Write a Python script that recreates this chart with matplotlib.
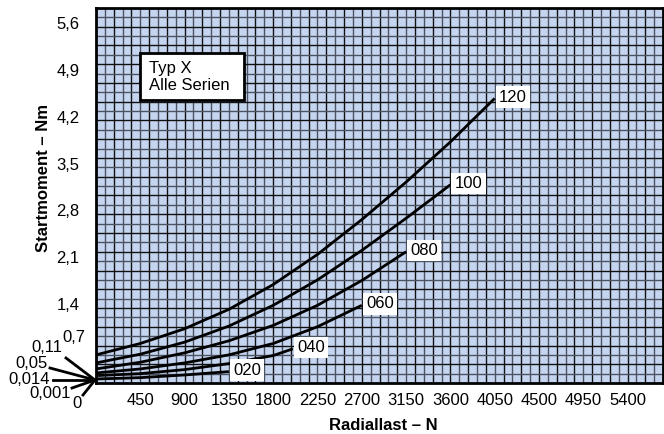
import numpy as np
import matplotlib
matplotlib.use("Agg")
import matplotlib.pyplot as plt
from matplotlib.patches import Rectangle
from matplotlib.transforms import ScaledTranslation

plt.rcParams["font.family"] = ["Liberation Sans", "DejaVu Sans"]

# curve data (Radiallast N -> Startmoment Nm)
x_120 = [0, 450, 900, 1350, 1800, 2250, 2700, 3150, 3600, 4050]
y_120 = [0.42, 0.59, 0.81, 1.10, 1.47, 1.92, 2.44, 3.00, 3.60, 4.25]
x_100 = [0, 450, 900, 1350, 1800, 2250, 2700, 3150, 3600]
y_100 = [0.30, 0.43, 0.61, 0.85, 1.16, 1.54, 1.98, 2.46, 2.96]
x_080 = [0, 450, 900, 1350, 1800, 2250, 2700, 3150]
y_080 = [0.21, 0.31, 0.45, 0.63, 0.86, 1.16, 1.53, 1.96]
x_060 = [0, 450, 900, 1350, 1800, 2250, 2700]
y_060 = [0.15, 0.21, 0.30, 0.42, 0.59, 0.84, 1.16]
x_040 = [0, 450, 900, 1350, 1800, 2000]
y_040 = [0.11, 0.14, 0.20, 0.29, 0.41, 0.51]
x_020 = [0, 450, 900, 1350]
y_020 = [0.06, 0.08, 0.12, 0.17]

series = [("120", x_120, y_120), ("100", x_100, y_100), ("080", x_080, y_080),
          ("060", x_060, y_060), ("040", x_040, y_040), ("020", x_020, y_020)]

x_ticks = [450, 900, 1350, 1800, 2250, 2700, 3150, 3600, 4050, 4500, 4950, 5400]
y_ticks = [0.7, 1.4, 2.1, 2.8, 3.5, 4.2, 4.9, 5.6]
y_tick_labels = ["0,7", "1,4", "2,1", "2,8", "3,5", "4,2", "4,9", "5,6"]

# small start values with leader lines: label, text position (px), line start (px)
low_labels = ["0,11", "0,05", "0,014", "0,001", "0"]
low_text_px = [(47, 347), (31, 363), (29, 379), (50, 394), (77, 404)]
low_line_start_px = [(66, 358), (50, 368), (53, 380), (72, 388), (83, 395)]

FS = 12
W, H = 664, 434
fig = plt.figure(figsize=(W / 100, H / 100), dpi=100)
ax = fig.add_axes([96 / W, 1 - 383 / H, 567 / W, 375 / H])
ax.set_facecolor("#c6d5ef")
ax.set_xlim(0, 5760)
ax.set_ylim(0, 5.6)

# dense graph-paper grid
for i, gx in enumerate(np.arange(90, 5760, 90)):
    ax.axvline(gx, color="#111111" if i % 2 else "#4b5262", lw=1.0, zorder=1)
for i, gy in enumerate(np.arange(0.14, 5.6, 0.14)):
    ax.axhline(gy, color="#111111" if i % 2 else "#4b5262", lw=1.0, zorder=1)

for name, xs, ys in series:
    ax.plot(xs, ys, color="black", lw=2.0, zorder=3, solid_capstyle="butt")
    ax.annotate(name, (xs[-1], ys[-1]), xytext=(3, 1), textcoords="offset points",
                ha="left", va="center", fontsize=FS, zorder=4,
                bbox=dict(boxstyle="square,pad=0.2", fc="white", ec="none"))

ax.set_xticks(x_ticks)
ax.set_xticklabels([str(v) for v in x_ticks], fontsize=FS)
ax.set_yticks(y_ticks)
ax.set_yticklabels(y_tick_labels, fontsize=FS)
ax.tick_params(length=0)
ax.tick_params(axis="x", pad=7)
ax.tick_params(axis="y", pad=12)
# labels in the original sit a little below their grid lines; 0,7 sits nearer the axis
shift = ScaledTranslation(0, -15 / 100, fig.dpi_scale_trans)
ylabels = ax.get_yticklabels()
for lab in ylabels[1:]:
    lab.set_transform(lab.get_transform() + shift)
ylabels[0].set_transform(ylabels[0].get_transform()
                         + ScaledTranslation(6 / 100, 0, fig.dpi_scale_trans))
for s in ax.spines.values():
    s.set_linewidth(2.0)
    s.set_zorder(5)

fig.text(383 / W, 1 - 425 / H, "Radiallast – N", ha="center", va="center",
         fontsize=FS, fontweight="bold")
fig.text(44 / W, 1 - 178 / H, "Startmoment – Nm", rotation=90, ha="center",
         va="center", fontsize=FS, fontweight="bold")

# leader lines for the small start values
for lab, (tx, ty), (sx, sy) in zip(low_labels, low_text_px, low_line_start_px):
    fig.text(tx / W, 1 - ty / H, lab, ha="center", va="center", fontsize=FS)
    fig.add_artist(plt.Line2D([sx / W, 95 / W], [1 - sy / H, 1 - 380 / H],
                              color="black", lw=2.0))

# info box
fig.add_artist(Rectangle((140 / W, 1 - 100 / H), 104 / W, 47 / H, transform=fig.transFigure,
                         fc="white", ec="black", lw=2.0, zorder=6))
fig.text(149 / W, 1 - 77 / H, "Typ X\nAlle Serien", ha="left", va="center",
         fontsize=FS, linespacing=1.1, zorder=7)

fig.savefig("out.png", dpi=100)
